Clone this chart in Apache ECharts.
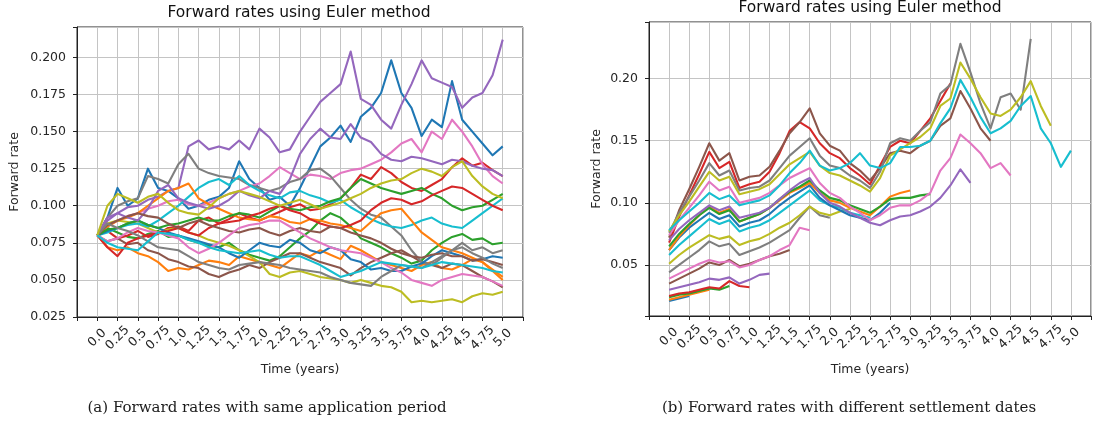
<!DOCTYPE html>
<html>
<head>
<meta charset="utf-8">
<script src="https://cdn.jsdelivr.net/npm/echarts@6/dist/echarts.min.js"></script>
<style>
  html, body { margin: 0; padding: 0; background: #ffffff; }
  #chart { width: 1095px; height: 427px; }
</style>
</head>
<body>
<div id="chart"></div>
<script>
// Sample times (years), one every 0.125
const STEP = 0.125;
const TIMES = Array.from({ length: 41 }, (_, i) => i * STEP);

const X_TICK_LABELS = ['0.0', '0.25', '0.5', '0.75', '1.0', '1.25', '1.5', '1.75', '2.0', '2.25',
  '2.5', '2.75', '3.0', '3.25', '3.5', '3.75', '4.0', '4.25', '4.5', '4.75', '5.0'];

const TAB10 = ['#1f77b4', '#ff7f0e', '#2ca02c', '#d62728', '#9467bd',
  '#8c564b', '#e377c2', '#7f7f7f', '#bcbd22', '#17becf'];

// ---- (a) forward rates, same application period: 20 simulated paths from 0.08 ----
const samePath01 = [.080,.092,.112,.100,.105,.125,.112,.110,.105,.098,.100,.104,.106,.112,.130,.118,.112,.104,.106,.100,.112,.126,.140,.146,.154,.143,.160,.166,.176,.198,.176,.166,.147,.158,.153,.184,.158,.150,.142,.134,.140];
const samePath02 = [.080,.072,.070,.072,.068,.066,.062,.056,.058,.057,.060,.063,.062,.060,.066,.064,.062,.060,.058,.063,.068,.066,.070,.067,.064,.073,.070,.066,.062,.060,.058,.056,.060,.062,.058,.057,.060,.064,.062,.056,.050];
const samePath03 = [.080,.085,.082,.079,.078,.081,.083,.079,.080,.077,.075,.073,.072,.075,.070,.067,.065,.063,.066,.072,.078,.083,.090,.095,.092,.086,.078,.075,.072,.068,.065,.061,.063,.070,.075,.079,.081,.077,.078,.074,.075];
const samePath04 = [.080,.083,.078,.080,.083,.079,.081,.085,.086,.083,.090,.092,.088,.091,.095,.092,.090,.093,.096,.099,.101,.097,.098,.101,.105,.112,.121,.118,.126,.122,.116,.112,.110,.114,.118,.126,.132,.127,.129,.124,.120];
const samePath05 = [.080,.090,.095,.099,.100,.104,.106,.110,.112,.140,.144,.138,.140,.138,.144,.138,.152,.146,.136,.138,.150,.160,.170,.176,.182,.204,.172,.168,.158,.152,.168,.182,.198,.186,.183,.180,.166,.173,.176,.188,.212];
const samePath06 = [.080,.076,.078,.074,.075,.070,.068,.064,.062,.059,.058,.054,.052,.055,.057,.060,.058,.062,.065,.068,.068,.065,.062,.060,.058,.053,.058,.062,.065,.068,.070,.066,.062,.060,.058,.061,.060,.056,.052,.049,.045];
const samePath07 = [.080,.086,.090,.093,.095,.098,.100,.103,.104,.101,.100,.102,.105,.108,.110,.113,.115,.120,.126,.122,.118,.121,.120,.118,.122,.124,.125,.128,.131,.136,.142,.145,.136,.150,.145,.158,.150,.140,.128,.120,.115];
const samePath08 = [.080,.092,.100,.103,.105,.120,.118,.115,.128,.135,.125,.122,.120,.119,.118,.114,.112,.110,.112,.116,.118,.124,.125,.120,.112,.104,.098,.094,.092,.086,.080,.070,.062,.060,.065,.070,.075,.070,.072,.068,.070];
const samePath09 = [.080,.088,.090,.089,.088,.085,.082,.084,.085,.082,.080,.077,.075,.073,.070,.066,.062,.054,.052,.055,.056,.054,.052,.051,.050,.048,.050,.048,.046,.045,.042,.035,.036,.035,.036,.037,.035,.039,.041,.040,.042];
const samePath10 = [.080,.082,.085,.087,.088,.086,.090,.095,.100,.106,.112,.116,.118,.114,.120,.114,.110,.107,.105,.109,.110,.107,.105,.102,.104,.099,.095,.091,.088,.086,.085,.087,.090,.092,.088,.086,.085,.090,.095,.100,.105];
const samePath11 = [.080,.083,.085,.088,.090,.087,.085,.082,.080,.078,.076,.074,.072,.068,.065,.070,.075,.073,.072,.077,.075,.070,.068,.072,.070,.064,.062,.057,.058,.056,.056,.059,.061,.066,.070,.068,.066,.063,.064,.066,.065];
const samePath12 = [.080,.086,.090,.092,.095,.100,.105,.110,.112,.115,.105,.101,.098,.095,.092,.091,.090,.093,.092,.089,.088,.091,.090,.088,.087,.085,.083,.089,.095,.097,.098,.090,.082,.077,.072,.070,.068,.065,.062,.057,.052];
const samePath13 = [.080,.084,.085,.088,.090,.087,.085,.087,.088,.090,.092,.090,.090,.093,.095,.094,.092,.096,.100,.098,.097,.099,.100,.103,.105,.112,.118,.115,.112,.110,.108,.110,.112,.108,.105,.100,.097,.099,.100,.104,.108];
const samePath14 = [.080,.072,.066,.075,.078,.080,.082,.083,.085,.082,.080,.085,.088,.089,.090,.093,.095,.098,.100,.097,.095,.091,.088,.086,.085,.087,.090,.097,.102,.105,.104,.101,.103,.107,.110,.113,.112,.108,.104,.100,.097];
const samePath15 = [.080,.092,.095,.092,.090,.098,.110,.114,.105,.102,.100,.098,.100,.104,.110,.107,.105,.110,.108,.118,.135,.145,.152,.146,.145,.155,.146,.143,.135,.131,.130,.133,.132,.130,.128,.131,.130,.127,.125,.124,.120];
const samePath16 = [.080,.087,.090,.093,.095,.093,.092,.088,.085,.088,.090,.087,.085,.083,.082,.084,.085,.082,.080,.083,.085,.083,.082,.086,.085,.082,.080,.078,.075,.071,.068,.066,.065,.067,.068,.066,.066,.063,.064,.062,.060];
const samePath17 = [.080,.076,.078,.082,.085,.083,.082,.080,.078,.072,.068,.071,.075,.080,.085,.087,.088,.090,.090,.086,.082,.078,.075,.072,.070,.069,.068,.065,.062,.058,.055,.050,.048,.046,.050,.052,.054,.053,.052,.049,.046];
const samePath18 = [.080,.088,.085,.083,.080,.076,.072,.071,.070,.066,.062,.060,.058,.057,.060,.061,.062,.061,.060,.058,.057,.056,.055,.052,.050,.048,.047,.046,.052,.056,.060,.059,.058,.062,.066,.070,.072,.068,.065,.061,.058];
const samePath19 = [.080,.100,.108,.105,.102,.106,.108,.102,.097,.095,.094,.099,.105,.108,.110,.108,.106,.103,.100,.102,.104,.101,.098,.100,.102,.105,.108,.112,.115,.117,.118,.122,.125,.123,.120,.126,.130,.120,.113,.108,.105];
const samePath20 = [.080,.075,.072,.071,.070,.076,.082,.081,.080,.077,.075,.072,.070,.069,.068,.069,.070,.067,.065,.066,.066,.063,.060,.056,.052,.054,.056,.059,.062,.061,.060,.059,.058,.060,.062,.061,.060,.059,.058,.056,.055];

// ---- (b) forward rates with settlement dates 0.25, 0.5, ..., 5.0 years ----
const settle025 = [.021,.023,.025];
const settle050 = [.022,.024,.026,.028,.030];
const settle075 = [.024,.026,.027,.029,.031,.030,.033];
const settle100 = [.025,.027,.028,.030,.032,.031,.037,.033,.032];
const settle125 = [.030,.032,.034,.036,.039,.038,.040,.035,.038,.042,.043];
const settle150 = [.035,.039,.043,.047,.052,.050,.054,.049,.051,.054,.057,.059,.062];
const settle175 = [.039,.043,.047,.051,.054,.052,.053,.048,.050,.054,.057,.062,.066,.080,.078];
const settle200 = [.044,.050,.056,.062,.069,.065,.067,.058,.061,.064,.068,.073,.078,.088,.097,.090,.088];
const settle225 = [.051,.058,.064,.069,.074,.071,.073,.066,.069,.071,.075,.080,.084,.090,.097,.092,.090,.093,.095];
const settle250 = [.058,.066,.073,.080,.087,.083,.086,.077,.080,.082,.086,.092,.098,.104,.110,.102,.098,.096,.092,.090,.088];
const settle275 = [.062,.072,.080,.086,.092,.087,.090,.081,.084,.086,.091,.098,.104,.109,.114,.104,.098,.094,.090,.088,.086,.092,.100];
const settle300 = [.062,.073,.082,.090,.097,.092,.095,.085,.088,.091,.096,.102,.108,.112,.116,.108,.102,.100,.096,.093,.090,.097,.105,.108,.110];
const settle325 = [.065,.075,.083,.090,.096,.091,.094,.085,.088,.091,.096,.103,.109,.113,.118,.110,.104,.102,.098,.095,.092,.097,.103,.104,.104,.106,.107];
const settle350 = [.068,.089,.106,.123,.141,.128,.133,.112,.115,.117,.125,.140,.158,.165,.160,.148,.140,.136,.128,.122,.115,.130,.145,.150,.148,.158,.168,.182,.196];
const settle375 = [.070,.079,.086,.092,.098,.094,.097,.088,.090,.092,.096,.103,.110,.116,.120,.108,.100,.097,.092,.088,.084,.082,.086,.089,.090,.093,.097,.104,.114,.127,.116];
const settle400 = [.072,.094,.111,.129,.148,.134,.140,.118,.121,.122,.129,.142,.156,.165,.176,.156,.146,.142,.132,.126,.118,.128,.140,.142,.140,.146,.150,.162,.168,.190,.176,.160,.150];
const settle425 = [.074,.086,.096,.106,.117,.110,.113,.100,.102,.104,.108,.114,.120,.124,.128,.116,.108,.104,.097,.092,.086,.090,.096,.098,.098,.102,.108,.126,.136,.155,.148,.140,.128,.132,.122];
const settle450 = [.076,.092,.105,.118,.132,.122,.126,.110,.112,.113,.118,.128,.138,.145,.152,.138,.130,.128,.122,.118,.112,.125,.148,.152,.150,.158,.165,.188,.195,.228,.205,.180,.160,.185,.188,.175,.232];
const settle475 = [.077,.090,.101,.113,.125,.118,.121,.107,.109,.111,.115,.123,.131,.136,.141,.130,.124,.122,.118,.114,.109,.120,.138,.143,.148,.153,.160,.178,.184,.213,.200,.185,.172,.170,.175,.185,.198,.178,.162];
const settle500 = [.078,.086,.093,.100,.108,.103,.106,.098,.100,.102,.106,.114,.124,.132,.142,.130,.126,.128,.132,.140,.130,.128,.132,.145,.145,.146,.150,.164,.176,.199,.185,.169,.156,.160,.166,.178,.186,.160,.148,.129,.142];

const SAME_PATHS = [samePath01, samePath02, samePath03, samePath04, samePath05,
  samePath06, samePath07, samePath08, samePath09, samePath10,
  samePath11, samePath12, samePath13, samePath14, samePath15,
  samePath16, samePath17, samePath18, samePath19, samePath20];
const SETTLE_PATHS = [settle025, settle050, settle075, settle100, settle125,
  settle150, settle175, settle200, settle225, settle250,
  settle275, settle300, settle325, settle350, settle375,
  settle400, settle425, settle450, settle475, settle500];

const TEXT = '#262626';
const FONT = 'DejaVu Sans';

function pathSeries(values, idx, axis) {
  return {
    type: 'line',
    xAxisIndex: axis,
    yAxisIndex: axis,
    data: values.map((v, i) => [TIMES[i], v]),
    showSymbol: false,
    symbol: 'none',
    silent: true,
    clip: true,
    lineStyle: { color: TAB10[idx % 10], width: 2.1, join: 'round' },
    itemStyle: { color: TAB10[idx % 10] },
    z: 2 + idx * 0.01
  };
}

function xTickLabel(v) {
  const k = Math.round(v / 0.25);
  if (Math.abs(v - k * 0.25) > 1e-9 || k < 0 || k >= X_TICK_LABELS.length) return '';
  return X_TICK_LABELS[k];
}

function xAxisFor(gridIndex, gap) {
  return {
    type: 'value', gridIndex: gridIndex,
    min: -0.25, max: 5.25, interval: 0.25,
    name: 'Time (years)', nameLocation: 'middle', nameGap: gap,
    nameTextStyle: { color: TEXT, fontFamily: FONT, fontSize: 12.5 },
    axisLine: { show: true, onZero: false, lineStyle: { color: '#222', width: 1 } },
    axisTick: { show: true, length: 4, lineStyle: { color: '#222', width: 1 } },
    axisLabel: {
      color: TEXT, fontFamily: FONT, fontSize: 12.5,
      rotate: 45, align: 'center', verticalAlign: 'middle', margin: 21,
      showMinLabel: true, showMaxLabel: true,
      formatter: xTickLabel
    },
    splitLine: { show: true, lineStyle: { color: '#c4c4c4', width: 1 } }
  };
}

const leftY = {
  type: 'value', gridIndex: 0,
  min: 0.025, max: 0.2205, interval: 0.025,
  name: 'Forward rate', nameLocation: 'middle', nameGap: 56,
  nameTextStyle: { color: TEXT, fontFamily: FONT, fontSize: 12.5 },
  axisLine: { show: true, onZero: false, lineStyle: { color: '#222', width: 1 } },
  axisTick: { show: true, length: 4, lineStyle: { color: '#222', width: 1 } },
  axisLabel: {
    color: TEXT, fontFamily: FONT, fontSize: 12.5, margin: 11,
    showMinLabel: true, showMaxLabel: true,
    formatter: v => {
      const k = Math.round(v / 0.025);
      return (Math.abs(v - k * 0.025) < 1e-9 && v < 0.2 + 1e-9) ? v.toFixed(3) : '';
    }
  },
  splitLine: { show: true, lineStyle: { color: '#c4c4c4', width: 1 } }
};

const rightY = {
  type: 'value', gridIndex: 1,
  min: 0.0089, max: 0.2456, splitNumber: 5,
  name: 'Forward rate', nameLocation: 'middle', nameGap: 46,
  nameTextStyle: { color: TEXT, fontFamily: FONT, fontSize: 12.5 },
  axisLine: { show: true, onZero: false, lineStyle: { color: '#222', width: 1 } },
  axisTick: { show: true, length: 4, lineStyle: { color: '#222', width: 1 } },
  axisLabel: {
    color: TEXT, fontFamily: FONT, fontSize: 12.5, margin: 11,
    showMinLabel: true, showMaxLabel: true,
    formatter: v => {
      const k = Math.round(v / 0.05);
      return Math.abs(v - k * 0.05) < 1e-9 ? v.toFixed(2) : '';
    }
  },
  splitLine: { show: true, lineStyle: { color: '#c4c4c4', width: 1 } }
};

const titleStyle = { color: '#111', fontFamily: FONT, fontSize: 15.5, fontWeight: 'normal' };
const captionStyle = { color: '#1a1a1a', fontFamily: 'DejaVu Serif', fontSize: 15, fontWeight: 'normal' };

const option = {
  animation: false,
  backgroundColor: '#ffffff',
  title: [
    { text: 'Forward rates using Euler method', left: 299, top: 12.5, padding: 0,
      textAlign: 'center', textVerticalAlign: 'middle', textStyle: titleStyle },
    { text: 'Forward rates using Euler method', left: 870, top: 7.5, padding: 0,
      textAlign: 'center', textVerticalAlign: 'middle', textStyle: titleStyle },
    { text: '(a) Forward rates with same application period', left: 267, top: 408, padding: 0,
      textAlign: 'center', textVerticalAlign: 'middle', textStyle: captionStyle },
    { text: '(b) Forward rates with different settlement dates', left: 849, top: 408, padding: 0,
      textAlign: 'center', textVerticalAlign: 'middle', textStyle: captionStyle }
  ],
  grid: [
    { left: 77, top: 27, width: 446, height: 290, show: true, borderColor: '#222', borderWidth: 1,
      containLabel: false, outerBoundsMode: 'none' },
    { left: 649, top: 22, width: 442, height: 294, show: true, borderColor: '#222', borderWidth: 1,
      containLabel: false, outerBoundsMode: 'none' }
  ],
  xAxis: [xAxisFor(0, 46), xAxisFor(1, 47)],
  yAxis: [leftY, rightY],
  series: [
    ...SAME_PATHS.map((p, i) => pathSeries(p, i, 0)),
    ...SETTLE_PATHS.map((p, i) => pathSeries(p, i, 1))
  ]
};

const chart = echarts.init(document.getElementById('chart'), null, { renderer: 'canvas' });
chart.setOption(option);
</script>
</body>
</html>
